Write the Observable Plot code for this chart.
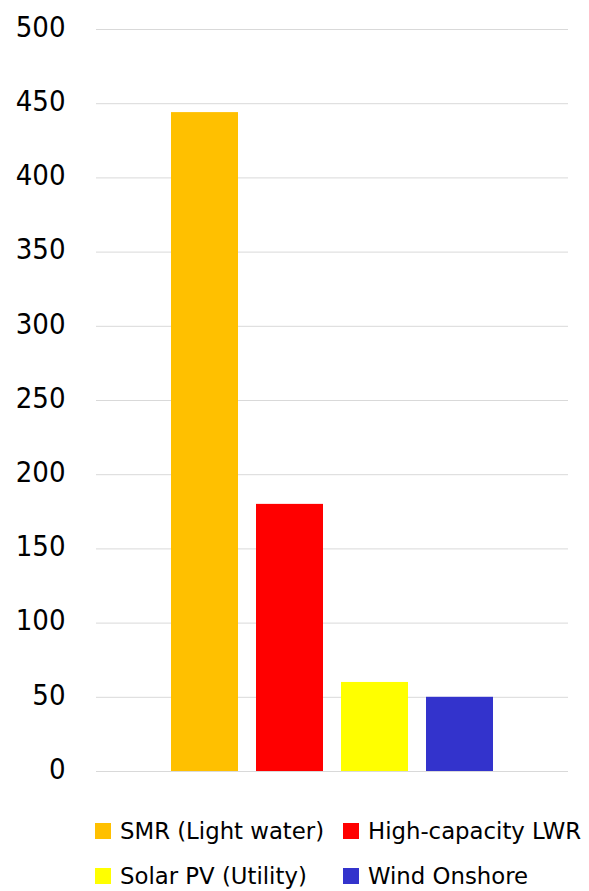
<!DOCTYPE html>
<html>
<head>
<meta charset="utf-8">
<script src="https://cdn.jsdelivr.net/npm/d3@7"></script>
<script src="https://cdn.jsdelivr.net/npm/@observablehq/plot@0.6"></script>
<style>
  body { margin: 0; background: #fff; }
  #legend {
    display: grid;
    grid-template-columns: 248px 240px;
    grid-auto-rows: 45px;
    padding: 18px 0 0 95px;
    font-family: "DejaVu Sans", sans-serif;
    font-size: 22.8px;
    color: #000;
  }
  .item { display: flex; align-items: center; white-space: nowrap; }
  .sw { width: 16px; height: 16px; margin-right: 9px; flex: none; }
</style>
</head>
<body>
<div id="chart"></div>
<div id="legend"></div>
<script>
const categories = ["SMR (Light water)", "High-capacity LWR", "Solar PV (Utility)", "Wind Onshore"];
const values = [444, 180, 60, 50];
const colors = ["#ffc000", "#ff0000", "#ffff00", "#3333cc"];
const yTicks = [0, 50, 100, 150, 200, 250, 300, 350, 400, 450, 500];

const data = categories.map((c, i) => ({category: c, value: values[i]}));

const plot = Plot.plot({
  width: 589,
  height: 790,
  marginTop: 29,
  marginBottom: 19,
  marginLeft: 96,
  marginRight: 21,
  style: {fontFamily: "'DejaVu Sans Condensed', 'DejaVu Sans', sans-serif", fontSize: "29px", color: "#000", background: "#fff"},
  x: {domain: categories, paddingInner: 0.215, paddingOuter: 0.87, axis: null},
  y: {domain: [0, 500], ticks: yTicks, label: null, tickSize: 0, tickPadding: 31},
  color: {domain: categories, range: colors},
  marks: [
    Plot.gridY(yTicks, {stroke: "#d9d9d9", strokeOpacity: 1, strokeWidth: 1}),
    Plot.barY(data, {x: "category", y: "value", fill: "category"}),
    Plot.axisY(yTicks, {tickSize: 0, tickPadding: 31, fontSize: 29, dy: -2, label: null})
  ]
});
document.getElementById("chart").appendChild(plot);

const legend = document.getElementById("legend");
categories.forEach((c, i) => {
  const item = document.createElement("div");
  item.className = "item";
  const sw = document.createElement("span");
  sw.className = "sw";
  sw.style.background = colors[i];
  const t = document.createElement("span");
  t.textContent = c;
  item.appendChild(sw);
  item.appendChild(t);
  legend.appendChild(item);
});
</script>
</body>
</html>
